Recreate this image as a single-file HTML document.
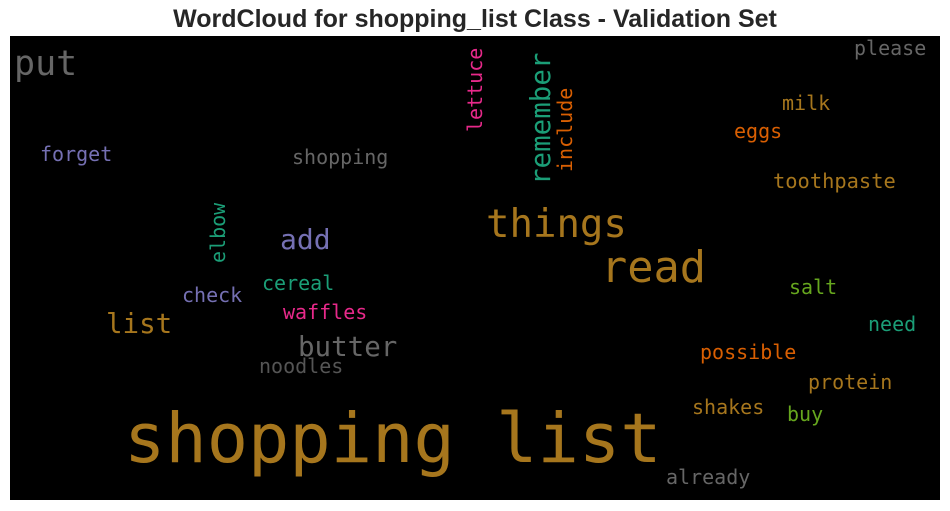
<!DOCTYPE html>
<html><head><meta charset="utf-8"><style>
html,body{margin:0;padding:0;background:#fff;width:950px;height:511px;overflow:hidden}
svg text.w{font-family:"DejaVu Sans Mono","Liberation Mono",monospace}
</style></head><body>
<svg width="950" height="511">
<text x="475" y="27" text-anchor="middle" font-family="Liberation Sans, sans-serif" font-weight="bold" font-size="25" fill="#262626">WordCloud for shopping_list Class - Validation Set</text>
<rect x="10" y="36" width="930" height="464" fill="#000"/>
<g id="words"></g>
</svg>
<script>
const words=["put","forget","shopping","add","please","milk","eggs","toothpaste","things","read","cereal","check","waffles","list","butter","noodles","salt","need","possible","protein","shakes","buy","already","shopping list","elbow","lettuce","remember","include"];
const sizes=[35,20,20,28,20,20,20,20.4,39,43.6,20,20,20,27.5,27.5,20,20,20,20,20,20,20,20,68.7,20,20,27.5,20];
const colors=["#666","#7570b3","#666","#7570b3","#666","#a6761d","#d95f02","#a6761d","#a6761d","#a6761d","#1b9e77","#7570b3","#e7298a","#a6761d","#666","#555","#66a61e","#1b9e77","#d95f02","#a6761d","#a6761d","#66a61e","#666","#a6761d","#1b9e77","#e7298a","#1b9e77","#d95f02"];
const xs=[14,40,292,280,854,782,734,773,486,601,262,182,283,106,298,259,789,868,700,808,692,787,666,124,225,482,550,572];
const ys=[75,161,164,249,55,110,138,188,237,282,290,302,319,333,356,373,294,331,359,389,414,421,484,462,263,132,185,172];
const rot=[0,0,0,0,0,0,0,0,0,0,0,0,0,0,0,0,0,0,0,0,0,0,0,0,1,1,1,1];
const g=document.getElementById('words');
words.forEach((w,i)=>{
 const t=document.createElementNS('http://www.w3.org/2000/svg','text');
 t.setAttribute('class','w');
 t.setAttribute('font-size',sizes[i]);
 t.setAttribute('fill',colors[i]);
 if(rot[i]){t.setAttribute('transform','translate('+xs[i]+','+ys[i]+') rotate(-90)');}
 else{t.setAttribute('x',xs[i]);t.setAttribute('y',ys[i]);}
 t.textContent=w;
 
 
 g.appendChild(t);
});
</script>
</body></html>
